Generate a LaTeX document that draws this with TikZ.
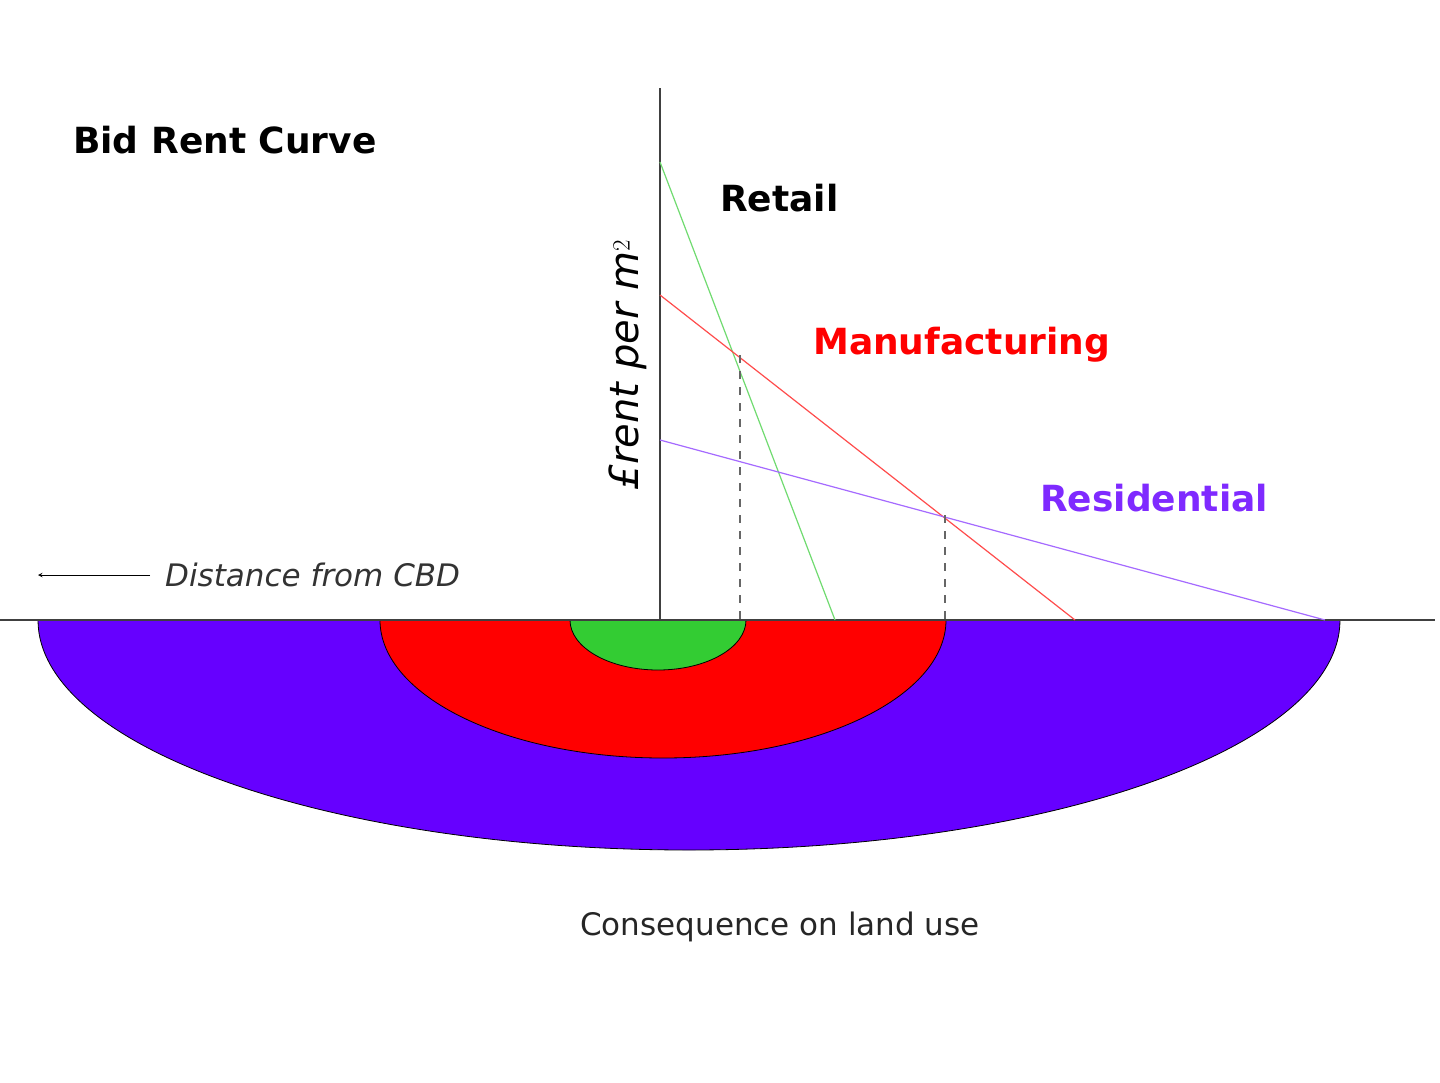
\documentclass[tikz,border=0pt]{standalone}
\usepackage{fontspec}
\setmainfont{DejaVu Sans}
\begin{document}
\begin{tikzpicture}[x=1pt,y=-1pt,
  lbl/.style={font=\fontsize{36}{40}\selectfont\bfseries, anchor=west, inner sep=0pt},
  it/.style={font=\fontsize{31}{36}\selectfont\itshape, inner sep=0pt},
  zone/.style={draw=black, line width=0.8pt}]
\definecolor{respurple}{HTML}{6600FF}
\definecolor{reslabel}{HTML}{7F2AFF}
\definecolor{retgreen}{HTML}{33CC33}
\useasboundingbox (0,0) rectangle (1440,1082);
\fill[white] (0,0) rectangle (1440,1082);
% zones
\draw[zone, fill=respurple] (38,620) arc[start angle=180, end angle=360, x radius=651, y radius=-230] -- cycle;
\draw[zone, fill=red] (380,620) arc[start angle=180, end angle=360, x radius=283, y radius=-138] -- cycle;
\draw[zone, fill=retgreen] (570,620) arc[start angle=180, end angle=360, x radius=88, y radius=-50] -- cycle;
% axes
\coordinate (ytop) at (660,88);
\coordinate (o) at (660,620);
\coordinate (xl) at (0,620);
\coordinate (xr) at (1435,620);
\draw[line width=1.2pt, black!75] (ytop) -- (o);
\draw[line width=1.2pt, black!75] (xl) -- (xr);
% curves
\coordinate (g1) at (660,162); \coordinate (g2) at (835,620);
\coordinate (r1) at (660,295); \coordinate (r2) at (1075,620);
\coordinate (p1) at (660,440); \coordinate (p2) at (1325,620);
\draw[retgreen!70, line width=1.2pt] (g1) -- (g2);
\draw[red!70, line width=1.2pt] (r1) -- (r2);
\draw[reslabel!70, line width=1.2pt] (p1) -- (p2);
% dashed
\coordinate (d1) at (740,355); \coordinate (d1b) at (740,620);
\coordinate (d2) at (945,515); \coordinate (d2b) at (945,620);
\draw[dashed, black!60, line width=1.2pt, dash pattern=on 8pt off 8pt] (d1) -- (d1b);
\draw[dashed, black!60, line width=1.2pt, dash pattern=on 8pt off 8pt] (d2) -- (d2b);
% labels
\node[lbl] (title) at (73,140) {Bid Rent Curve};
\node[lbl] (ret) at (720,198) {Retail};
\node[lbl, text=red] (man) at (813,345) {Manufacturing};
\node[lbl, text=reslabel] (res) at (1040,498) {Residential};
\node[it, anchor=west, text=black!80] (dist) at (165,575) {Distance from CBD};
\coordinate (as) at (150,575); \coordinate (ae) at (38,575);
\draw[-stealth, line width=1pt] (as) -- (ae);
\node[it, rotate=90, font=\fontsize{40}{44}\selectfont\itshape] (ylab) at (628,365) {£rent per m$^2$};
\node[font=\fontsize{31}{36}\selectfont, text=black!85] (cons) at (780,927) {Consequence on land use};
\end{tikzpicture}
\end{document}
